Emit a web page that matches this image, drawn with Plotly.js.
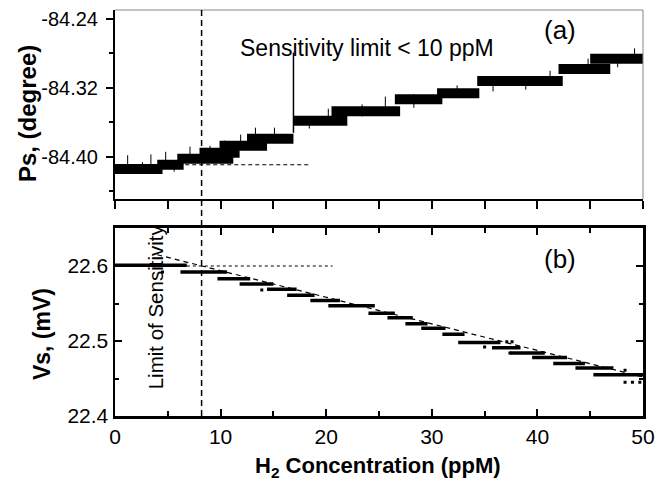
<!DOCTYPE html>
<html>
<head>
<meta charset="utf-8">
<script src="https://cdn.plot.ly/plotly-3.0.1.min.js"></script>
<style>html,body{margin:0;padding:0;background:#fff;}#chart{width:669px;height:485px;}</style>
</head>
<body>
<div id="chart"></div>
<script>
// ---- Data ----
// Panel (a): Ps phase signal, step segments (start ppM, end ppM, level degree)
var psSegStart = [0, 4, 5.9, 8, 9.9, 12.5, 16.9, 20.5, 26.5, 30.5, 34.3, 42, 45];
var psSegEnd   = [4.5, 6.5, 11.2, 11.8, 14.4, 16.9, 22, 27, 31, 34.5, 42.4, 46.9, 50];
var psSegLevel = [-84.414, -84.409, -84.402, -84.395, -84.387, -84.379, -84.358, -84.347, -84.333, -84.326, -84.312, -84.298, -84.286];
var psSpikeX = [16.9, 16.9];
var psSpikeY = [-84.279, -84.372];
// scattered noise hairlines sticking out of the band (x, centre, half-height)
var psNoiseX = [1.2, 2.6, 3.4, 4.8, 5.6, 7.1, 9.0, 10.4, 11.9, 13.3, 15.1, 18.4, 20.2, 23.4, 25.6, 28.3, 32.4, 35.8, 38.9, 41.2, 44.8, 47.6, 49.2];
var psNoiseY = [-84.406, -84.412, -84.404, -84.400, -84.411, -84.395, -84.393, -84.388, -84.380, -84.373, -84.372, -84.360, -84.350, -84.346, -84.336, -84.335, -84.323, -84.317, -84.316, -84.307, -84.293, -84.290, -84.282];
var psNoiseH = [0.008, 0.006, 0.007, 0.006, 0.006, 0.007, 0.006, 0.007, 0.006, 0.007, 0.006, 0.007, 0.006, 0.007, 0.006, 0.008, 0.006, 0.007, 0.006, 0.007, 0.007, 0.006, 0.008];

// Panel (b): Vs signal, step segments
var vsSegStart = [0, 6.2, 9.7, 11.8, 14.4, 16.3, 18.5, 20.2, 24, 25.8, 27.5, 29, 31, 32.5, 35.7, 37.4, 39.5, 41.5, 43.6, 45.3];
var vsSegEnd   = [6.8, 10.6, 12.8, 15, 17.2, 18.9, 21.3, 24.6, 26.5, 28.2, 29.6, 31.3, 33.1, 36.5, 38.4, 40.7, 42.8, 44.5, 47.2, 50];
var vsSegLevel = [22.601, 22.592, 22.583, 22.576, 22.569, 22.561, 22.554, 22.547, 22.537, 22.531, 22.523, 22.517, 22.509, 22.498, 22.491, 22.484, 22.478, 22.470, 22.464, 22.455];
var vsDotX = [4.5, 13.9, 35.0, 37.1, 37.6, 37.4, 48.3, 48.3, 49.0, 49.7];
var vsDotY = [22.592, 22.568, 22.492, 22.499, 22.499, 22.484, 22.461, 22.445, 22.445, 22.445];

// Guide lines
var limitX = 8.2;                         // vertical dashed "limit of sensitivity"
var psBaseX = [4, 18.3], psBaseY = -84.409;   // horizontal dashed, panel (a)
var vsBaseX = [6.8, 20.6], vsBaseY = 22.6;    // horizontal dashed, panel (b)
var vsTrendX = [4, 50], vsTrendY = [22.615, 22.452]; // dashed trend, panel (b)

// Axis ticks
var xRange = [0, 50];
var psTickVals = [-84.24, -84.32, -84.40];
var psTickText = ['-84.24', '-84.32', '-84.40'];
var psRange = [-84.4487, -84.2296];
var vsTickVals = [22.4, 22.5, 22.6];
var vsTickText = ['22.4', '22.5', '22.6'];
var vsRange = [22.4, 22.6507];

// ---- Build traces ----
function segTrace(starts, ends, levels, xa, ya, w) {
  var x = [], y = [];
  for (var i = 0; i < starts.length; i++) {
    x.push(starts[i], ends[i], null);
    y.push(levels[i], levels[i], null);
  }
  return {x: x, y: y, xaxis: xa, yaxis: ya, mode: 'lines', type: 'scatter',
          line: {color: '#000', width: w}, hoverinfo: 'skip', showlegend: false};
}

var traces = [
  segTrace(psSegStart, psSegEnd, psSegLevel, 'x', 'y', 10),
  {x: psNoiseX, y: psNoiseY, xaxis: 'x', yaxis: 'y', mode: 'markers', type: 'scatter',
   marker: {size: 0.1, color: '#000'},
   error_y: {type: 'data', array: psNoiseH, visible: true, color: '#000', thickness: 1, width: 0},
   showlegend: false},
  {x: psSpikeX, y: psSpikeY, xaxis: 'x', yaxis: 'y', mode: 'lines', type: 'scatter',
   line: {color: '#000', width: 1.5}, showlegend: false},
  {x: [psBaseX[0], psBaseX[1]], y: [psBaseY, psBaseY], xaxis: 'x', yaxis: 'y', mode: 'lines', type: 'scatter',
   line: {color: '#000', width: 1.2, dash: '4px,3px'}, showlegend: false},
  segTrace(vsSegStart, vsSegEnd, vsSegLevel, 'x2', 'y2', 3.5),
  {x: vsDotX, y: vsDotY, xaxis: 'x2', yaxis: 'y2', mode: 'markers', type: 'scatter',
   marker: {color: '#000', size: 3, symbol: 'square'}, showlegend: false},
  {x: vsBaseX, y: [vsBaseY, vsBaseY], xaxis: 'x2', yaxis: 'y2', mode: 'lines', type: 'scatter',
   line: {color: '#000', width: 1.2, dash: '3px,3px'}, showlegend: false},
  {x: vsTrendX, y: vsTrendY, xaxis: 'x2', yaxis: 'y2', mode: 'lines', type: 'scatter',
   line: {color: '#000', width: 1.2, dash: '5px,4px'}, showlegend: false}
];

var FONT = 'Liberation Sans, Arial, Helvetica, sans-serif';

var layout = {
  width: 669, height: 485,
  margin: {l: 115, r: 26, t: 10, b: 69},
  paper_bgcolor: '#fff', plot_bgcolor: '#fff',
  font: {family: FONT, color: '#000'},
  showlegend: false,
  xaxis: {
    domain: [0, 1], anchor: 'y', range: xRange, showgrid: false, zeroline: false,
    showline: true, linecolor: '#000', linewidth: 2,
    ticks: 'outside', ticklen: 8, tickwidth: 2, tickcolor: '#000', dtick: 5, tick0: 0,
    showticklabels: false
  },
  yaxis: {
    domain: [0.5345, 1], anchor: 'x', range: psRange, showgrid: false, zeroline: false,
    showline: true, linecolor: '#000', linewidth: 2,
    ticks: 'outside', ticklen: 7, tickwidth: 2, tickcolor: '#000',
    tickmode: 'array', tickvals: psTickVals, ticktext: psTickText, ticklabelstandoff: 4,
    tickfont: {family: FONT, size: 20, color: '#000'},
    minor: {dtick: 0.04, tick0: -84.24, ticks: 'outside', ticklen: 4, tickwidth: 2, tickcolor: '#000', showgrid: false}
  },
  xaxis2: {
    domain: [0, 1], anchor: 'y2', range: xRange, showgrid: false, zeroline: false,
    showline: true, linecolor: '#000', linewidth: 2.5, mirror: 'ticks',
    ticks: 'inside', ticklen: 7, tickwidth: 2, tickcolor: '#000', dtick: 10, tick0: 0,
    tickfont: {family: FONT, size: 21, color: '#000'},
    minor: {dtick: 5, tick0: 0, ticks: 'inside', ticklen: 5, tickwidth: 2, tickcolor: '#000', showgrid: false}
  },
  yaxis2: {
    domain: [0, 0.4631], anchor: 'x2', range: vsRange, showgrid: false, zeroline: false,
    showline: true, linecolor: '#000', linewidth: 2.5, mirror: 'ticks',
    ticks: 'inside', ticklen: 7, tickwidth: 2, tickcolor: '#000',
    tickmode: 'array', tickvals: vsTickVals, ticktext: vsTickText,
    tickfont: {family: FONT, size: 21, color: '#000'},
    minor: {dtick: 0.05, tick0: 22.4, ticks: 'inside', ticklen: 4, tickwidth: 2, tickcolor: '#000', showgrid: false}
  },
  shapes: [
    {type: 'line', xref: 'paper', yref: 'paper', x0: 0, x1: 1, y0: 1, y1: 1, line: {color: '#888', width: 1}},
    {type: 'line', xref: 'paper', yref: 'paper', x0: 1, x1: 1, y0: 0.5345, y1: 1, line: {color: '#888', width: 1}},
    {type: 'line', xref: 'x', yref: 'paper', x0: limitX, x1: limitX, y0: 0, y1: 1,
     line: {color: '#000', width: 1.5, dash: '6px,4px'}}
  ],
  annotations: [
    {text: 'Sensitivity limit &lt; 10 ppM', xref: 'x', yref: 'y', x: 23.9, y: -84.2736,
     showarrow: false, xanchor: 'center', yanchor: 'middle', font: {family: FONT, size: 23, color: '#000'}},
    {text: '(a)', xref: 'x', yref: 'y', x: 42.1, y: -84.2528, showarrow: false,
     xanchor: 'center', yanchor: 'middle', font: {family: FONT, size: 26, color: '#000'}},
    {text: '(b)', xref: 'x2', yref: 'y2', x: 42.1, y: 22.6093, showarrow: false,
     xanchor: 'center', yanchor: 'middle', font: {family: FONT, size: 26, color: '#000'}},
    {text: 'Limit of Sensitivity', xref: 'x2', yref: 'paper', x: 3.8, y: 0.268, textangle: -90,
     showarrow: false, xanchor: 'center', yanchor: 'middle', font: {family: FONT, size: 20.5, color: '#000'}},
    {text: '<b>Ps, (degree)</b>', xref: 'paper', yref: 'paper', x: -0.1667, y: 0.746, textangle: -90,
     showarrow: false, xanchor: 'center', yanchor: 'middle', font: {family: FONT, size: 24, color: '#000'}},
    {text: '<b>Vs, (mV)</b>', xref: 'paper', yref: 'paper', x: -0.138, y: 0.202, textangle: -90,
     showarrow: false, xanchor: 'center', yanchor: 'middle', font: {family: FONT, size: 23, color: '#000'}},
    {text: '<b>H<sub>2</sub> Concentration (ppM)</b>', xref: 'paper', yref: 'paper', x: 0.498, y: -0.1256,
     showarrow: false, xanchor: 'center', yanchor: 'middle', font: {family: FONT, size: 22, color: '#000'}}
  ]
};

Plotly.newPlot('chart', traces, layout, {staticPlot: true, displayModeBar: false});
</script>
</body>
</html>
